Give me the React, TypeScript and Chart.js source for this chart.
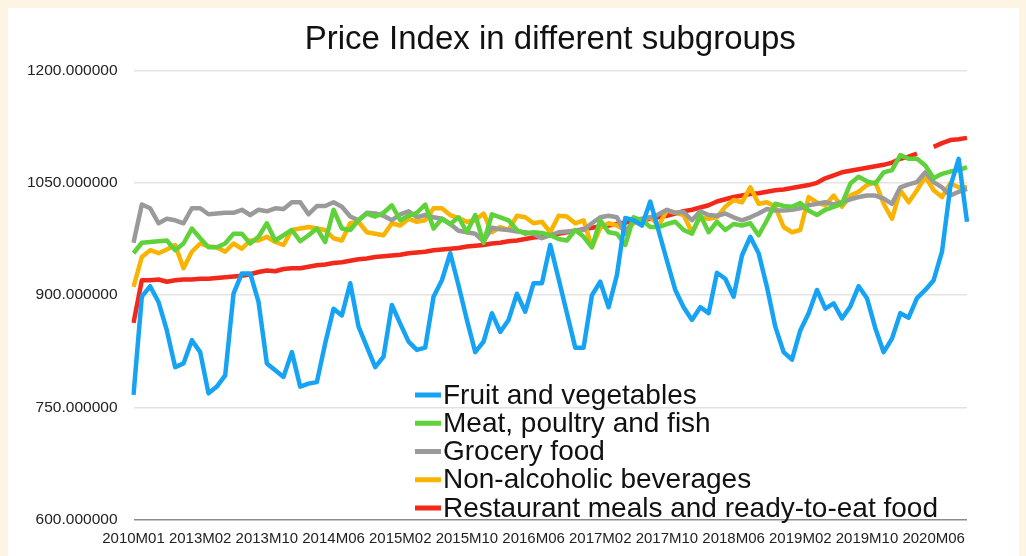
import React, { useEffect, useRef } from "react";
import { Chart, registerables } from "chart.js";

Chart.register(...registerables);

const categories: string[] = [
  "2010M01",
  "2012M07", "2012M08", "2012M09", "2012M10", "2012M11", "2012M12",
  "2013M01", "2013M02", "2013M03", "2013M04", "2013M05", "2013M06", "2013M07", "2013M08", "2013M09", "2013M10", "2013M11", "2013M12",
  "2014M01", "2014M02", "2014M03", "2014M04", "2014M05", "2014M06", "2014M07", "2014M08", "2014M09", "2014M10", "2014M11", "2014M12",
  "2015M01", "2015M02", "2015M03", "2015M04", "2015M05", "2015M06", "2015M07", "2015M08", "2015M09", "2015M10", "2015M11", "2015M12",
  "2016M01", "2016M02", "2016M03", "2016M04", "2016M05", "2016M06", "2016M07", "2016M08", "2016M09", "2016M10", "2016M11", "2016M12",
  "2017M01", "2017M02", "2017M03", "2017M04", "2017M05", "2017M06", "2017M07", "2017M08", "2017M09", "2017M10", "2017M11", "2017M12",
  "2018M01", "2018M02", "2018M03", "2018M04", "2018M05", "2018M06", "2018M07", "2018M08", "2018M09", "2018M10", "2018M11", "2018M12",
  "2019M01", "2019M02", "2019M03", "2019M04", "2019M05", "2019M06", "2019M07", "2019M08", "2019M09", "2019M10", "2019M11", "2019M12",
  "2020M01", "2020M02", "2020M03", "2020M04", "2020M05", "2020M06", "2020M07", "2020M08", "2020M09", "2020M10",
];

// Category labels that appear on the x axis
const xTickLabels: string[] = [
  "2010M01", "2013M02", "2013M10", "2014M06", "2015M02", "2015M10", "2016M06",
  "2017M02", "2017M10", "2018M06", "2019M02", "2019M10", "2020M06",
];

const yTicks: number[] = [600, 750, 900, 1050, 1200];

const fruitAndVegetables: number[] = [
  767, 898, 912, 891, 853, 804, 809, 840, 824, 769,
  778, 793, 902, 929, 929, 891, 809, 800, 791, 824,
  778, 782, 784, 836, 882, 873, 916, 858, 831, 804,
  818, 887, 862, 838, 827, 830, 898, 920, 956, 913,
  867, 824, 838, 876, 851, 867, 902, 878, 916, 916,
  967, 922, 876, 830, 830, 900, 918, 884, 927, 1003,
  1000, 993, 1025, 986, 946, 907, 884, 867, 884, 876,
  930, 922, 898, 953, 978, 956, 911, 858, 824, 814,
  853, 876, 907, 882, 889, 869, 885, 912, 896, 856,
  824, 842, 876, 870, 896, 907, 920, 958, 1045, 1082,
  998,
];

const meatPoultryFish: number[] = [
  956, 970, 971, 972, 973, 960, 969, 989, 976, 964,
  964, 969, 982, 982, 969, 978, 996, 973, 980, 987,
  972, 980, 989, 971, 1014, 989, 987, 1000, 1009, 1005,
  1010, 1020, 1000, 1006, 1010, 1021, 989, 1002, 995, 1004,
  984, 1007, 970, 1008, 1004, 1000, 987, 982, 984, 983,
  980, 975, 973, 987, 978, 964, 1000, 984, 982, 967,
  1004, 1000, 991, 991, 995, 998, 987, 982, 1007, 984,
  998, 987, 995, 993, 996, 980, 1000, 1022, 1019, 1018,
  1023, 1013, 1007, 1014, 1018, 1022, 1049, 1058, 1052, 1049,
  1064, 1067, 1087, 1082, 1082, 1073, 1056, 1062, 1065, 1067,
  1071,
];

const groceryFood: number[] = [
  970, 1021, 1016, 996, 1002, 1000, 996, 1016, 1016, 1008,
  1009, 1010, 1010, 1014, 1007, 1014, 1012, 1016, 1015, 1024,
  1024, 1008, 1019, 1019, 1024, 1018, 1005, 1000, 1010, 1009,
  1006, 1000, 1008, 1012, 1004, 1007, 1004, 1002, 995, 986,
  984, 982, 972, 990, 988, 987, 985, 984, 982, 976,
  980, 984, 985, 986, 987, 996, 1004, 1006, 1004, 982,
  1000, 1002, 1004, 1008, 1014, 1010, 1011, 1000, 1012, 1007,
  1006, 1009, 1004, 1000, 1004, 1009, 1015, 1013, 1013, 1014,
  1016, 1020, 1022, 1024, 1021, 1024, 1028, 1031, 1033, 1033,
  1029, 1022, 1044, 1048, 1051, 1064, 1051, 1044, 1033, 1038,
  1042,
];

const nonAlcoholicBeverages: number[] = [
  911, 951, 960, 956, 961, 967, 936, 958, 969, 965,
  964, 958, 969, 962, 973, 973, 978, 971, 967, 987,
  989, 991, 989, 987, 976, 973, 996, 998, 984, 982,
  980, 996, 993, 1002, 998, 1000, 1016, 1016, 1007, 1003,
  998, 1000, 1009, 984, 991, 987, 1006, 1004, 996, 998,
  984, 1006, 1005, 996, 1000, 964, 990, 996, 993, 987,
  996, 1000, 1004, 993, 1013, 1010, 1007, 984, 1004, 1002,
  1004, 1018, 1027, 1024, 1044, 1022, 1024, 1018, 991, 984,
  987, 1031, 1024, 1020, 1033, 1018, 1033, 1038, 1047, 1051,
  1022, 1002, 1040, 1024, 1040, 1058, 1040, 1031, 1049, 1044,
  1044,
];

const restaurantMeals: (number | null)[] = [
  863, 920, 920, 921, 918, 920, 921, 921, 922, 922,
  923, 924, 925, 926, 928, 931, 933, 932, 935, 936,
  936, 938, 940, 941, 943, 944, 946, 948, 949, 951,
  952, 953, 954, 956, 957, 958, 960, 961, 962, 963,
  965, 966, 967, 969, 970, 972, 973, 975, 977, 978,
  980, 982, 984, 986, 988, 990, 992, 993, 995, 997,
  999, 1000, 1002, 1004, 1006, 1009, 1012, 1014, 1017, 1020,
  1025, 1028, 1031, 1033, 1035, 1036, 1038, 1040, 1041, 1043,
  1045, 1047, 1050, 1056, 1060, 1064, 1066, 1068, 1070, 1072,
  1074, 1077, 1082, 1085, 1089, null, 1098, 1103, 1107, 1108,
  1110,
];

const seriesNames: string[] = [
  "Fruit and vegetables",
  "Meat, poultry and fish",
  "Grocery food",
  "Non-alcoholic beverages",
  "Restaurant meals and ready-to-eat food",
];

const seriesColors: string[] = ["#17a3f3", "#5fd23b", "#9a9a9a", "#f8b400", "#f2291a"];

const FONT = '"Liberation Sans", Arial, Helvetica, sans-serif';

const insideLegend = {
  id: "insideLegend",
  afterDatasetsDraw(chart: any) {
    const { ctx, chartArea } = chart;
    const x0 = chartArea.left + 281.5;
    const y0 = chartArea.bottom - 125;
    chart.data.datasets.forEach((ds: any, k: number) => {
      const y = y0 + k * 28.25;
      ctx.save();
      ctx.strokeStyle = ds.borderColor;
      ctx.lineWidth = 5;
      ctx.lineCap = "butt";
      ctx.beginPath();
      ctx.moveTo(x0, y);
      ctx.lineTo(x0 + 26, y);
      ctx.stroke();
      ctx.fillStyle = "#111";
      ctx.font = `28px ${FONT}`;
      ctx.textBaseline = "middle";
      ctx.textAlign = "left";
      ctx.fillText(ds.label, x0 + 28, y + 1);
      ctx.restore();
    });
  },
};

export default function App() {
  const canvasRef = useRef<HTMLCanvasElement | null>(null);

  useEffect(() => {
    const canvas = canvasRef.current;
    if (!canvas) return;
    const values = [fruitAndVegetables, meatPoultryFish, groceryFood, nonAlcoholicBeverages, restaurantMeals];
    const chart = new Chart(canvas, {
      type: "line",
      data: {
        labels: categories,
        datasets: values.map((v, k) => ({
          label: seriesNames[k],
          data: v,
          borderColor: seriesColors[k],
          backgroundColor: seriesColors[k],
          borderWidth: 4.5,
          pointRadius: 0,
          pointHoverRadius: 0,
          tension: 0,
          fill: false,
          borderJoinStyle: "round" as const,
          spanGaps: false,
        })),
      },
      options: {
        responsive: false,
        animation: false,
        layout: { padding: { left: 0, right: 52, top: 0, bottom: 0 } },
        plugins: {
          legend: { display: false },
          tooltip: { enabled: false },
          title: {
            display: true,
            text: "Price Index in different subgroups",
            fullSize: false,
            color: "#111",
            font: { family: FONT, size: 33, weight: "normal" },
            padding: { top: 12, bottom: 10.8 },
          },
        },
        scales: {
          x: {
            grid: { display: false, drawTicks: false },
            border: { display: false },
            ticks: {
              autoSkip: false,
              maxRotation: 0,
              minRotation: 0,
              padding: 10,
              color: "#222",
              font: { family: FONT, size: 15 },
              callback: (_v: any, i: number) =>
                xTickLabels.includes(categories[i]) ? categories[i] : "",
            },
            afterFit: (scale: any) => {
              scale.height = 36;
            },
          },
          y: {
            min: yTicks[0],
            max: yTicks[yTicks.length - 1],
            border: { display: false },
            grid: {
              drawTicks: false,
              lineWidth: 1.5,
              color: (c: any) => (c.tick && c.tick.value === yTicks[0] ? "#8c8c8c" : "#e3e3e3"),
            },
            ticks: {
              stepSize: yTicks[1] - yTicks[0],
              padding: 16,
              color: "#222",
              font: { family: FONT, size: 15.5 },
              callback: (v: any) => Number(v).toFixed(6),
            },
            afterFit: (scale: any) => {
              scale.width = 125.5;
            },
          },
        },
      },
      plugins: [insideLegend],
    });
    return () => chart.destroy();
  }, []);

  return (
    <div style={{ position: "fixed", inset: 0, background: "#fdf4e3" }}>
      <div style={{ position: "absolute", left: 8, top: 8, width: 1011, height: 560, background: "#ffffff" }}>
        <canvas ref={canvasRef} width={1011} height={548} style={{ display: "block" }} />
      </div>
    </div>
  );
}
